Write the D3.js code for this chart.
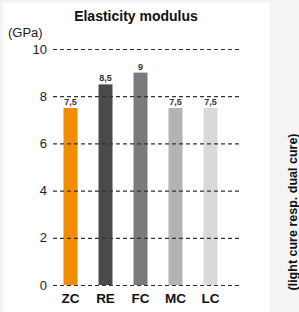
<!DOCTYPE html>
<html>
<head>
<meta charset="utf-8">
<script src="https://cdn.jsdelivr.net/npm/d3@7"></script>
<style>
  body { margin: 0; background: #f4f4f4; }
  svg { display: block; font-family: "Liberation Sans", Arial, sans-serif; }
</style>
</head>
<body>
<svg id="chart" width="299" height="312"></svg>
<script>
const categories = ["ZC", "RE", "FC", "MC", "LC"];
const values = [7.5, 8.5, 9, 7.5, 7.5];
const valueLabels = ["7,5", "8,5", "9", "7,5", "7,5"];
const colors = ["#f28c00", "#4a4a48", "#7a7a7a", "#b3b3b3", "#d9d9d9"];
const yTicks = [0, 2, 4, 6, 8, 10];

const svg = d3.select("#chart");

// white panel
svg.append("rect")
  .attr("x", 3).attr("y", 3)
  .attr("width", 267).attr("height", 309)
  .attr("fill", "#fff");

const y = d3.scaleLinear().domain([0, 10]).range([285, 49]);
const x = d3.scaleBand().domain(categories).range([53, 228]).paddingInner(0.6).paddingOuter(0.3);

// bars
svg.append("g")
  .selectAll("rect")
  .data(values)
  .join("rect")
  .attr("x", (d, i) => x(categories[i]))
  .attr("y", d => y(d))
  .attr("width", x.bandwidth())
  .attr("height", d => y(0) - y(d))
  .attr("fill", (d, i) => colors[i]);

// grid + y axis
const yAxis = d3.axisLeft(y).tickValues(yTicks).tickSize(0).tickPadding(6).tickFormat(d3.format("d"));
const gy = svg.append("g").attr("transform", "translate(53,0)").call(yAxis);
gy.select(".domain").remove();
gy.selectAll("text")
  .attr("font-size", 13)
  .attr("fill", "#222")
  .attr("font-family", "Liberation Sans, Arial, sans-serif");
gy.selectAll(".tick").append("line")
  .attr("x1", 0).attr("x2", 188)
  .attr("stroke", "#333")
  .attr("stroke-width", 1.2)
  .attr("stroke-dasharray", "4,3");

// value labels
svg.append("g")
  .selectAll("text")
  .data(values)
  .join("text")
  .attr("x", (d, i) => x(categories[i]) + x.bandwidth() / 2)
  .attr("y", d => y(d) - 3)
  .attr("text-anchor", "middle")
  .attr("font-size", 9)
  .attr("font-weight", "bold")
  .attr("fill", "#333")
  .text((d, i) => valueLabels[i]);

// x axis labels
const xAxis = d3.axisBottom(x).tickSize(0).tickPadding(8);
const gx = svg.append("g").attr("transform", "translate(0,285)").call(xAxis);
gx.select(".domain").remove();
gx.selectAll("text")
  .attr("font-size", 13.5)
  .attr("font-weight", "bold")
  .attr("fill", "#111")
  .attr("font-family", "Liberation Sans, Arial, sans-serif");

// title and unit
svg.append("text")
  .attr("x", 136).attr("y", 21)
  .attr("text-anchor", "middle")
  .attr("font-size", 14)
  .attr("font-weight", "bold")
  .attr("fill", "#111")
  .text("Elasticity modulus");

svg.append("text")
  .attr("x", 8).attr("y", 37)
  .attr("font-size", 13)
  .attr("fill", "#222")
  .text("(GPa)");

svg.append("text")
  .attr("transform", "translate(297,212) rotate(-90)")
  .attr("text-anchor", "middle")
  .attr("font-size", 12.5)
  .attr("font-weight", "bold")
  .attr("fill", "#111")
  .text("(light cure resp. dual cure)");
</script>
</body>
</html>
